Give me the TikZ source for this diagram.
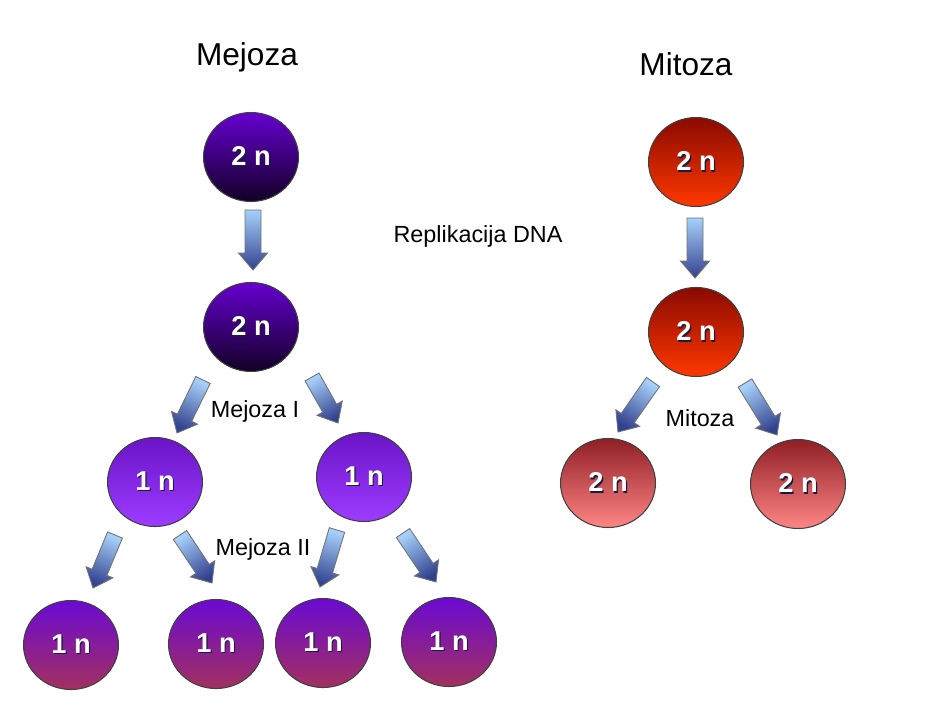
\documentclass[tikz,border=0pt]{standalone}
\usepackage{fontspec}
\setmainfont{Liberation Sans}
\usepackage{tikz}
\usetikzlibrary{shapes.geometric,calc}

\definecolor{meioTop}{HTML}{6600D0}
\definecolor{meioBot}{HTML}{120024}
\definecolor{halfTop}{HTML}{6A14C8}
\definecolor{halfBot}{HTML}{9D3CFF}
\definecolor{gameteTop}{HTML}{6A0AD2}
\definecolor{gameteBot}{HTML}{A3305F}
\definecolor{mitoTop}{HTML}{8A0A00}
\definecolor{mitoBot}{HTML}{FF3800}
\definecolor{daughterTop}{HTML}{8F1F24}
\definecolor{daughterBot}{HTML}{FF8585}
\definecolor{arrowTop}{HTML}{A6D0FA}
\definecolor{arrowBot}{HTML}{33428F}
\definecolor{shadowblue}{HTML}{1A1A40}

\tikzstyle{cell} = [ellipse, draw=black!75, line width=0.6pt, minimum width=1.9cm, minimum height=1.78cm, inner sep=0pt, text=white, font=\fontsize{15.5}{17}\selectfont\bfseries]
\tikzstyle{meio2n} = [cell, top color=meioTop, bottom color=meioBot]
\tikzstyle{meio1n} = [cell, top color=halfTop, bottom color=halfBot]
\tikzstyle{gamete} = [cell, top color=gameteTop, bottom color=gameteBot]
\tikzstyle{mito2n} = [cell, top color=mitoTop, bottom color=mitoBot]
\tikzstyle{daughter} = [cell, top color=daughterTop, bottom color=daughterBot]
\tikzstyle{arrowbody} = [draw=black!55, line width=0.5pt, top color=arrowTop, bottom color=arrowBot]
\tikzstyle{title} = [font=\fontsize{18}{20}\selectfont]
\tikzstyle{stage} = [font=\fontsize{13.3}{15}\selectfont]

% white label with a small dark shadow
\newcommand{\ploidy}[1]{\rlap{\kern0.7pt\raisebox{-0.7pt}{\color{shadowblue}#1}}#1}

% block arrow: tail, tip, shading angle
\newcommand{\cellarrow}[3]{%
  \coordinate (head) at ($(#2)!0.34cm!(#1)$);
  \path[arrowbody, shading angle=#3]
    ($(#1)!0.16cm!90:(#2)$) -- ($(head)!0.16cm!90:(#2)$) -- ($(head)!0.29cm!90:(#2)$) -- (#2)
    -- ($(head)!0.29cm!-90:(#2)$) -- ($(head)!0.16cm!-90:(#2)$) -- ($(#1)!0.16cm!-90:(#2)$) -- cycle;
}

\begin{document}
\begin{tikzpicture}[x=0.02cm,y=0.02cm,node distance=3.4cm]
  \useasboundingbox[fill=white] (0,0) rectangle (925,-707);

  \node[title] (Mej) at (247,-57) {Mejoza};
  \node[title] (Mit) at (686,-64) {Mitoza};
  \node[stage] (Rep) at (478,-236) {Replikacija DNA};
  \node[stage] (MejI) at (255,-411) {Mejoza I};
  \node[stage] (MejII) at (263,-549) {Mejoza II};
  \node[stage] (MitL) at (700,-418) {Mitoza};

  % meiosis
  \node[meio2n] (M1) at (251,-157) {\ploidy{2 n}};
  \node[meio2n] (M2) [below of=M1] {\ploidy{2 n}};
  \node[meio1n] (H1) at (155,-482) {\ploidy{1 n}};
  \node[meio1n] (H2) at (364,-477) {\ploidy{1 n}};
  \node[gamete] (G1) at (71,-645) {\ploidy{1 n}};
  \node[gamete] (G2) at (216,-644) {\ploidy{1 n}};
  \node[gamete] (G3) at (323,-643) {\ploidy{1 n}};
  \node[gamete] (G4) at (449,-642) {\ploidy{1 n}};

  % mitosis
  \node[mito2n] (T1) at (696,-162) {\ploidy{2 n}};
  \node[mito2n] (T2) [below of=T1] {\ploidy{2 n}};
  \node[daughter] (D1) at (608,-483) {\ploidy{2 n}};
  \node[daughter] (D2) at (798,-484) {\ploidy{2 n}};

  \coordinate (M1a) at (253,-210);  \coordinate (M2a) at (253,-270);
  \coordinate (M2l) at (203,-380);  \coordinate (H1a) at (177,-433);
  \coordinate (M2r) at (312,-377);  \coordinate (H2a) at (338,-423);
  \coordinate (H1l) at (115,-535);  \coordinate (G1a) at (93,-588);
  \coordinate (H1r) at (180,-535);  \coordinate (G2a) at (212,-583);
  \coordinate (H2l) at (337,-530);  \coordinate (G3a) at (320,-587);
  \coordinate (H2r) at (403,-533);  \coordinate (G4a) at (436,-582);
  \coordinate (T1a) at (695,-218);  \coordinate (T2a) at (695,-278);
  \coordinate (T2l) at (653,-382);  \coordinate (D1a) at (618,-432);
  \coordinate (T2r) at (745,-383);  \coordinate (D2a) at (777,-435);

  \cellarrow{M1a}{M2a}{0}
  \cellarrow{M2l}{H1a}{-26}
  \cellarrow{M2r}{H2a}{29.5}
  \cellarrow{H1l}{G1a}{-22.5}
  \cellarrow{H1r}{G2a}{33.7}
  \cellarrow{H2l}{G3a}{-16.6}
  \cellarrow{H2r}{G4a}{34}
  \cellarrow{T1a}{T2a}{0}
  \cellarrow{T2l}{D1a}{-35}
  \cellarrow{T2r}{D2a}{31.6}
\end{tikzpicture}
\end{document}
